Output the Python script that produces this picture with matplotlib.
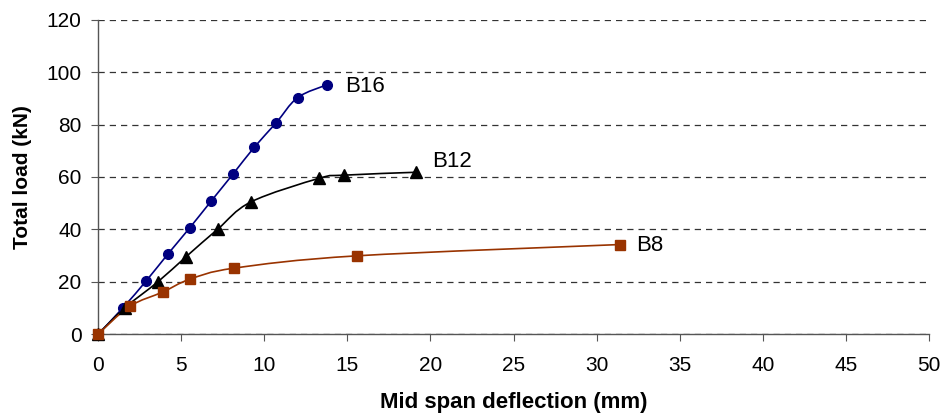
import numpy as np
import matplotlib
matplotlib.use("Agg")
from matplotlib import pyplot as plt
from matplotlib.path import Path
from matplotlib.patches import PathPatch

plt.rcParams['font.family'] = ['Liberation Sans', 'DejaVu Sans']

# data
b16_x = [0, 1.5, 2.9, 4.2, 5.5, 6.8, 8.1, 9.4, 10.7, 12.0, 13.8]
b16_y = [0, 10.1, 20.4, 30.6, 40.5, 50.8, 61.0, 71.4, 80.6, 90.3, 95.3]
b12_x = [0, 1.6, 3.6, 5.3, 7.2, 9.2, 13.3, 14.8, 19.1]
b12_y = [0, 10.0, 20.0, 29.6, 40.1, 50.5, 59.5, 60.7, 61.8]
b8_x = [0, 1.9, 3.9, 5.5, 8.2, 15.6, 31.4]
b8_y = [0, 10.6, 16.1, 20.9, 25.2, 29.9, 34.2]
names = ['B16', 'B12', 'B8']
colors = ['#000080', '#000000', '#993300']
markers = ['o', '^', 's']


def smooth_path(x, y):
    # Bezier smoothing through the points (like a spreadsheet "smoothed line")
    pts = np.column_stack([x, y]).astype(float)
    verts = [pts[0]]
    codes = [Path.MOVETO]
    n = len(pts)
    for i in range(n - 1):
        p0 = pts[max(i - 1, 0)]
        p1 = pts[i]
        p2 = pts[i + 1]
        p3 = pts[min(i + 2, n - 1)]
        c1 = p1 + (p2 - p0) / 6.0
        c2 = p2 - (p3 - p1) / 6.0
        verts += [c1, c2, p2]
        codes += [Path.CURVE4] * 3
    return Path(verts, codes)


fig = plt.figure(figsize=(9.44, 4.15), dpi=100)
ax = fig.add_axes([0.104, 0.195, 0.880, 0.757])

series = [(b16_x, b16_y), (b12_x, b12_y), (b8_x, b8_y)]
msizes = [7, 8, 6.5]
for (xs, ys), c, m, ms in zip(series, colors, markers, msizes):
    ax.add_patch(PathPatch(smooth_path(xs, ys), facecolor='none', edgecolor=c, lw=1.2, zorder=3))
    ax.plot(xs, ys, linestyle='none', marker=m, color=c, markersize=ms, zorder=4, clip_on=False)

# series labels at the line ends
ax.text(b16_x[-1] + 1.05, b16_y[-1] - 0.8, names[0], fontsize=16, va='center', ha='left')
ax.text(b12_x[-1] + 1.0, b12_y[-1] + 4.2, names[1], fontsize=16, va='center', ha='left')
ax.text(b8_x[-1] + 1.0, b8_y[-1] - 0.2, names[2], fontsize=16, va='center', ha='left')

ax.set_xlim(0, 50)
ax.set_ylim(0, 120)
ax.set_xticks(np.arange(0, 51, 5))
ax.set_yticks(np.arange(0, 121, 20))
ax.yaxis.grid(True, linestyle=(0, (5, 4)), color='#333333', lw=0.9)
ax.set_axisbelow(True)
for s in ['top', 'right']:
    ax.spines[s].set_visible(False)
for s in ['left', 'bottom']:
    ax.spines[s].set_color('#555555')
    ax.spines[s].set_linewidth(1.0)
ax.tick_params(axis='both', direction='out', length=5, color='#555555', labelsize=15)
ax.tick_params(axis='x', pad=11)
ax.tick_params(axis='y', pad=7)

ax.set_xlabel('Mid span deflection (mm)', fontsize=16, fontweight='bold', labelpad=12)
ax.set_ylabel('Total load (kN)', fontsize=15, fontweight='bold', labelpad=10)

fig.savefig('out.png', dpi=100)
